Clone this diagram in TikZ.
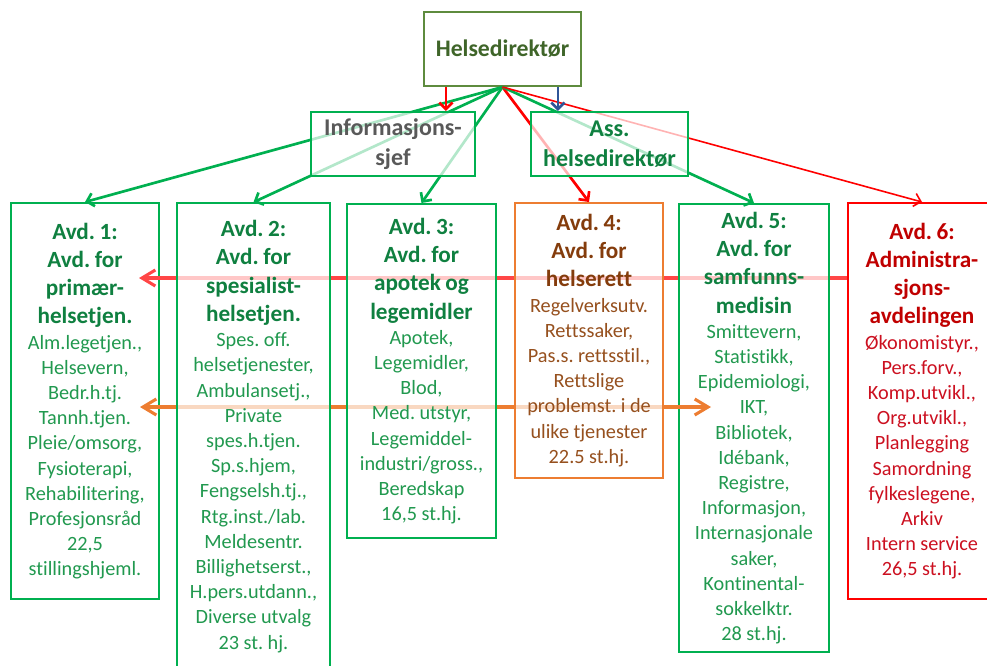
\documentclass[tikz,border=0pt]{standalone}
\usepackage{fontspec}
\setmainfont{Carlito}[Ligatures=CommonOff]
\usetikzlibrary{arrows.meta}

\definecolor{dirline}{HTML}{5E8B3E}
\definecolor{dirtext}{HTML}{3F6529}
\definecolor{grnline}{HTML}{00B050}
\definecolor{grnhead}{HTML}{0F8040}
\definecolor{grnbody}{HTML}{21994F}
\definecolor{infogray}{HTML}{595959}
\definecolor{orgline}{HTML}{ED7D31}
\definecolor{brnhead}{HTML}{843C0C}
\definecolor{brnbody}{HTML}{96501E}
\definecolor{redline}{HTML}{FF0000}
\definecolor{redhead}{HTML}{C00000}
\definecolor{redbody}{HTML}{CC1020}
\definecolor{hlred}{HTML}{FF4646}
\definecolor{bluearr}{HTML}{2F5597}

\newcommand\hdfont{\fontsize{17.4}{21.2}\selectfont\bfseries}
\newcommand\bdfont{\fontsize{15.2}{18.9}\selectfont}
\frenchspacing

\begin{document}
\begin{tikzpicture}[x=0.75pt, y=-0.75pt,
		box/.style={draw, line width=1.5pt, fill=white, fill opacity=0.7, text opacity=1, inner sep=2pt, align=center},
		avdbox/.style={box, text width=106pt},
		topline/.style={line width=2pt, -{Straight Barb[length=5pt,width=10pt]}},
		crossline/.style={line width=2.3pt},
		bigtip/.tip={Straight Barb[length=10pt,width=12pt]}
	]
	\useasboundingbox (0,0) rectangle (987,665);

	% Director and the boxes behind the cross lines
	\node[box, draw=dirline, text=dirtext, font=\fontsize{17.8}{20}\selectfont\bfseries,
		minimum width=117.75pt, minimum height=55.5pt] (dir) at (502.5,49) {Helsedirektør};
	\node[avdbox, draw=redline, text=redbody, minimum width=111pt, minimum height=297pt] (avd6) at (922,401)
		{{\hdfont\color{redhead}Avd. 6:\\Administra-\\sjons-\\avdelingen\par}
		{\bdfont Økonomistyr.,\\Pers.forv.,\\Komp.utvikl.,\\Org.utvikl.,\\Planlegging\\Samordning\\fylkeslegene,\\Arkiv\\Intern service\\26,5 st.hj.\par}};
	\node[avdbox, draw=grnline, text=grnbody, minimum width=111pt, minimum height=297pt] (avd1) at (85,401)
		{{\hdfont\color{grnhead}Avd. 1:\\Avd. for\\primær-\\helsetjen.\par}
		{\bdfont Alm.legetjen.,\\Helsevern,\\Bedr.h.tj.\\Tannh.tjen.\\Pleie/omsorg,\\Fysioterapi,\\Rehabilitering,\\Profesjonsråd\\22,5\\stillingshjeml.\par}};

	% Red cross line
	\coordinate (redtip) at (139,278);
	\draw[crossline, hlred, -{bigtip}] (avd6.west |- redtip) -- (redtip);

	\node[avdbox, draw=grnline, text=grnbody, minimum width=112.5pt, minimum height=336pt] (avd5) at (754,428)
		{{\hdfont\color{grnhead}Avd. 5:\\Avd. for\\samfunns-\\medisin\par}
		{\bdfont Smittevern,\\Statistikk,\\Epidemiologi,\\IKT,\\Bibliotek,\\Idébank,\\Registre,\\Informasjon,\\Internasjonale\\saker,\\Kontinental-\\sokkelktr.\\28 st.hj.\par}};

	% Orange cross line
	\coordinate (orgL) at (140,407);
	\coordinate (orgR) at (711,407);
	\draw[crossline, orgline, {bigtip}-{bigtip}] (orgL) -- (orgR);

	% Middle departments
	\node[avdbox, draw=grnline, text=grnbody, minimum width=114.75pt, minimum height=350pt] (avd2) at (253.5,436.5)
		{{\hdfont\color{grnhead}Avd. 2:\\Avd. for\\spesialist-\\helsetjen.\par}
		{\bdfont Spes. off.\\helsetjenester,\\Ambulansetj.,\\Private\\spes.h.tjen.\\Sp.s.hjem,\\Fengselsh.tj.,\\Rtg.inst./lab.\\Meldesentr.\\Billighetserst.,\\H.pers.utdann.,\\Diverse utvalg\\23 st. hj.\par}};
	\node[avdbox, draw=grnline, text=grnbody, minimum width=111.75pt, minimum height=250.5pt] (avd3) at (421.5,371)
		{{\hdfont\color{grnhead}Avd. 3:\\Avd. for\\apotek og\\legemidler\par}
		{\bdfont Apotek,\\Legemidler,\\Blod,\\Med. utstyr,\\Legemiddel-\\industri/gross.,\\Beredskap\\16,5 st.hj.\par}};
	\node[avdbox, draw=orgline, text=brnbody, minimum width=111pt, minimum height=206.25pt] (avd4) at (589,340.5)
		{{\hdfont\color{brnhead}Avd. 4:\\Avd. for\\helserett\par}
		{\bdfont Regelverksutv.\\Rettssaker,\\Pas.s. rettsstil.,\\Rettslige\\problemst. i de\\ulike tjenester\\22.5 st.hj.\par}};

	% Lines from the director
	\draw[topline, grnline] (dir.south) -- (avd1.north);
	\draw[topline, grnline] (dir.south) -- (avd2.north);
	\draw[topline, grnline] (dir.south) -- (avd3.north);
	\draw[topline, redline] (dir.south) -- (avd4.north);
	\draw[topline, grnline] (dir.south) -- (avd5.north);
	\draw[topline, redline, line width=1.2pt] (dir.south) -- (avd6.north);

	% Staff boxes
	\node[box, draw=grnline, text=infogray, font=\fontsize{18}{22.5}\selectfont\bfseries,
		minimum width=123pt, minimum height=48pt] (info) at (393,144) {Informasjons-\\sjef};
	\node[box, draw=grnline, text=grnhead, font=\fontsize{18}{22.5}\selectfont\bfseries,
		minimum width=117.75pt, minimum height=48pt] (ass) at (609.5,144) {Ass.\\helsedirektør};
	\draw[topline, redline] ([xshift=-42.4pt]dir.south) -- ([xshift=-42.4pt]dir.south |- info.north);
	\draw[topline, bluearr] ([xshift=41.6pt]dir.south) -- ([xshift=41.6pt]dir.south |- ass.north);
\end{tikzpicture}
\end{document}
